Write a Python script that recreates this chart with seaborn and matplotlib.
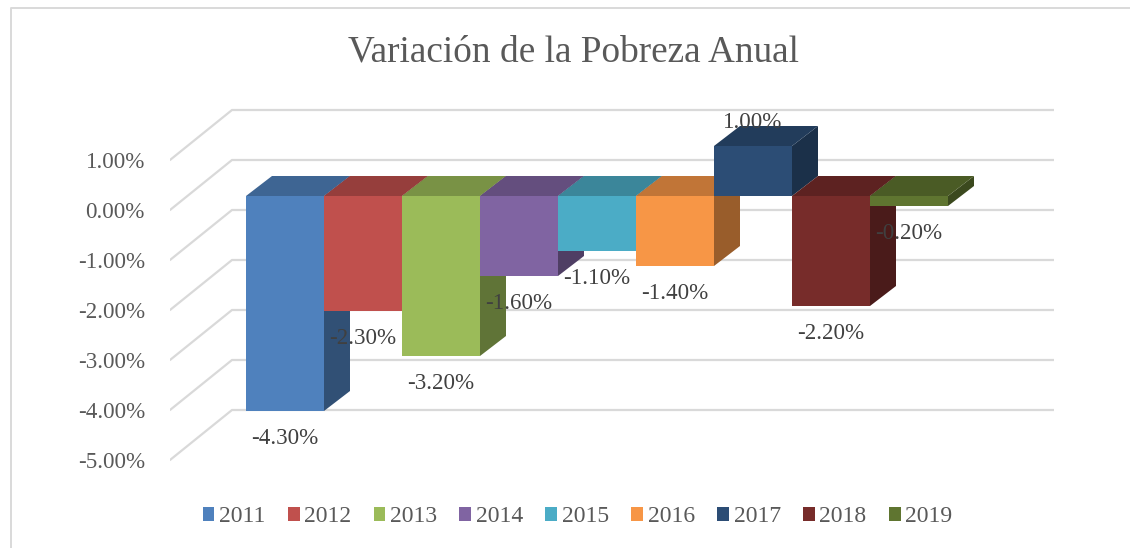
import matplotlib
matplotlib.use("Agg")
import matplotlib.pyplot as plt
import seaborn as sns
from matplotlib.colors import to_rgb
from matplotlib.lines import Line2D
from matplotlib.patches import Patch, Polygon

years = ["2011", "2012", "2013", "2014", "2015", "2016", "2017", "2018", "2019"]
values = [-4.3, -2.3, -3.2, -1.6, -1.1, -1.4, 1.0, -2.2, -0.2]
colors = ["#4F81BD", "#C0504D", "#9BBB59", "#8064A2", "#4BACC6",
          "#F79646", "#2C4D75", "#772C2A", "#5F7530"]
tick_values = [1, 0, -1, -2, -3, -4, -5]
title = "Variación de la Pobreza Anual"

W, H = 1130, 548
TEXT_GRAY = "#595959"
GRID = "#D9D9D9"

sns.set_theme(style="white")
plt.rcParams["font.family"] = ["Liberation Serif", "DejaVu Serif"]

fig = plt.figure(figsize=(W / 100, H / 100), dpi=100, facecolor="white")
# plot area in pixels, 78 px per bar and 50 px per percentage point
left, right, top, bottom = 170, 1054, 100, 470
ax = fig.add_axes([left / W, 1 - bottom / H, (right - left) / W, (bottom - top) / H])

sns.barplot(x=years, y=values, hue=years, palette=colors, width=1, saturation=1,
            legend=False, ax=ax, linewidth=0)

ax.set_xlim(-0.5 + (left - 246) / 78, -0.5 + (right - 246) / 78)
ax.set_ylim((196 - bottom) / 50, (196 - top) / 50)

# depth of the bars and of the chart floor, in data units
bar_dx, bar_dy = 26 / 78, 20 / 50
front_y, back_y = -14 / 50, 36 / 50
front_x = ax.get_xlim()[0]
back_x = -0.5 + (232 - 246) / 78
end_x = ax.get_xlim()[1]

# paredes / gridlines
for v in tick_values:
    ax.plot([front_x, back_x, end_x], [v + front_y, v + back_y, v + back_y],
            color=GRID, lw=1.6, zorder=1, solid_joinstyle="miter")

# caras 3D de cada barra
bars = sorted(ax.patches, key=lambda p: p.get_x())
for i, bar in enumerate(bars):
    x0, x1 = bar.get_x(), bar.get_x() + bar.get_width()
    y0, y1 = bar.get_y(), bar.get_y() + bar.get_height()
    low, high = min(y0, y1), max(y0, y1)
    base = to_rgb(colors[i])
    z = 3 + i
    bar.set_zorder(z + 0.2)
    side = [(x1, low), (x1 + bar_dx, low + bar_dy), (x1 + bar_dx, high + bar_dy), (x1, high)]
    upper = [(x0, high), (x0 + bar_dx, high + bar_dy), (x1 + bar_dx, high + bar_dy), (x1, high)]
    ax.add_patch(Polygon(side, closed=True, lw=0, zorder=z,
                         facecolor=[c * 0.62 for c in base]))
    ax.add_patch(Polygon(upper, closed=True, lw=0, zorder=z + 0.1,
                         facecolor=[c * 0.78 for c in base]))

# etiquetas de datos
for bar, v in zip(bars, values):
    offset = 0.47 if v > 0 else -0.55
    ax.text(bar.get_x() + bar.get_width() / 2, v + offset, f"{v:.2f}%",
            ha="center", va="center", fontsize=16.6, color="#404040", zorder=20)

ax.set_xticks([])
ax.set_yticks([v + front_y for v in tick_values], [f"{v:.2f}%" for v in tick_values])
ax.tick_params(axis="y", length=0, pad=18, labelsize=16.6, labelcolor=TEXT_GRAY)
ax.set_xlabel("")
ax.set_ylabel("")
ax.patch.set_visible(False)
for direction in ["top", "bottom", "left", "right"]:
    ax.spines[direction].set_visible(False)

fig.text(573 / W, 1 - 52 / H, title, ha="center", va="center",
         fontsize=26.8, color=TEXT_GRAY)

handles = [Patch(facecolor=c, edgecolor="none", label=y) for c, y in zip(colors, years)]
fig.legend(handles=handles, loc="center", bbox_to_anchor=(577.5 / W, 1 - 517 / H), ncol=9,
           frameon=False, fontsize=17, labelcolor=TEXT_GRAY, handlelength=0.5,
           handleheight=0.5, handletextpad=0.2, columnspacing=0.94, borderpad=0)

# borde del gráfico, sin lado derecho
fig.add_artist(Line2D([10.5 / W, 10.5 / W, 1], [0, 1 - 8 / H, 1 - 8 / H], color=GRID, lw=1.4))

fig.savefig("out.png", dpi=100)
